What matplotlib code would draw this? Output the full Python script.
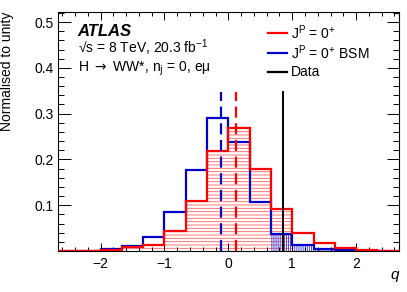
import matplotlib
matplotlib.use("Agg")
import matplotlib.pyplot as plt
from matplotlib.ticker import MultipleLocator, FixedLocator
import numpy as np

plt.rcParams["font.family"] = ["Liberation Sans", "DejaVu Sans"]
plt.rcParams["mathtext.fontset"] = "custom"
plt.rcParams["mathtext.rm"] = "Liberation Sans"
plt.rcParams["mathtext.it"] = "Liberation Sans:italic"
plt.rcParams["hatch.linewidth"] = 0.6

RED = "#ff0000"
BLUE = "#0000cc"

# q bins (width 1/3)
edges = np.linspace(-8 / 3, 8 / 3, 17)

# SM  J^P = 0+
sm = [0.000, 0.001, 0.002, 0.008, 0.014, 0.043, 0.109, 0.219,
      0.268, 0.180, 0.092, 0.040, 0.018, 0.006, 0.002, 0.001]
# BSM J^P = 0+
bsm = [0.001, 0.001, 0.004, 0.010, 0.031, 0.085, 0.178, 0.290,
       0.237, 0.106, 0.037, 0.013, 0.004, 0.002, 0.001, 0.001]

median_sm = 0.12
median_bsm = -0.115
q_obs = 0.857
line_top = 0.348

# bins hatched for each hypothesis (up to / from the data bin)
sm_hatch_to = 11
bsm_hatch_from = 10

fig = plt.figure(figsize=(4.07, 2.92), dpi=100)
ax = fig.add_axes([0.1425, 0.1404, 0.8371, 0.8185])

ax.stairs(sm[:sm_hatch_to], edges[:sm_hatch_to + 1], fill=True,
          facecolor="none", edgecolor="#ff6060", hatch="-----", lw=0, zorder=1)
ax.stairs(bsm[bsm_hatch_from:], edges[bsm_hatch_from:], fill=True,
          facecolor="none", edgecolor="#3030dd", hatch="||||||||", lw=0, zorder=1)

ax.stairs(bsm, edges, color=BLUE, lw=1.6, zorder=3)
ax.stairs(sm, edges, color=RED, lw=1.6, zorder=4)

ax.plot([median_bsm, median_bsm], [0, line_top], color=BLUE, lw=1.6,
        ls=(0, (5, 2.5)), zorder=5)
ax.plot([median_sm, median_sm], [0, line_top], color=RED, lw=1.6,
        ls=(0, (5, 2.5)), zorder=5)
ax.plot([q_obs, q_obs], [0, line_top], color="black", lw=1.4, zorder=6)

ax.set_xlim(edges[0], edges[-1])
ax.set_ylim(0, 0.522)

ax.xaxis.set_major_locator(FixedLocator([-2, -1, 0, 1, 2]))
ax.xaxis.set_minor_locator(MultipleLocator(0.2))
ax.yaxis.set_major_locator(FixedLocator([0.1, 0.2, 0.3, 0.4, 0.5]))
ax.yaxis.set_minor_locator(MultipleLocator(0.02))
ax.set_xticklabels(["\u22122", "\u22121", "0", "1", "2"])
ax.tick_params(which="both", direction="in", top=True, right=True,
               labelsize=10, width=0.7, colors="black")
ax.tick_params(axis="x", which="major", length=6, pad=4)
ax.tick_params(axis="x", which="minor", length=3)
ax.tick_params(axis="y", which="major", length=9, pad=3)
ax.tick_params(axis="y", which="minor", length=4.5)
for s in ax.spines.values():
    s.set_linewidth(0.8)

ax.set_ylabel("Normalised to unity", fontsize=10, loc="top")
ax.yaxis.set_label_coords(-0.128, 1.0)
ax.set_xlabel("q", fontsize=11, style="italic", loc="right")
ax.xaxis.set_label_coords(1.0, -0.07)

tr = ax.transAxes
ax.text(0.057, 0.90, "ATLAS", transform=tr, fontsize=12,
        fontweight="bold", style="italic")
ax.text(0.059, 0.828, "\u221as = 8 TeV, 20.3 fb$^{-1}$", transform=tr, fontsize=10)
ax.text(0.059, 0.749, "H $\\rightarrow$ WW*, n$_{\\mathrm{j}}$ = 0, e\u03bc",
        transform=tr, fontsize=10, math_fontfamily="dejavusans")

legend_rows = [(RED, "J$^{\\rm P}$ = 0$^{+}$"),
               (BLUE, "J$^{\\rm P}$ = 0$^{+}$ BSM"),
               ("black", "Data")]
for i, (c, lbl) in enumerate(legend_rows):
    yy = 0.912 - i * 0.0815
    ax.plot([0.616, 0.672], [yy, yy], transform=tr, color=c, lw=1.6)
    ax.text(0.683, yy, lbl, transform=tr, fontsize=10, va="center")

fig.savefig("out.png", dpi=100)
